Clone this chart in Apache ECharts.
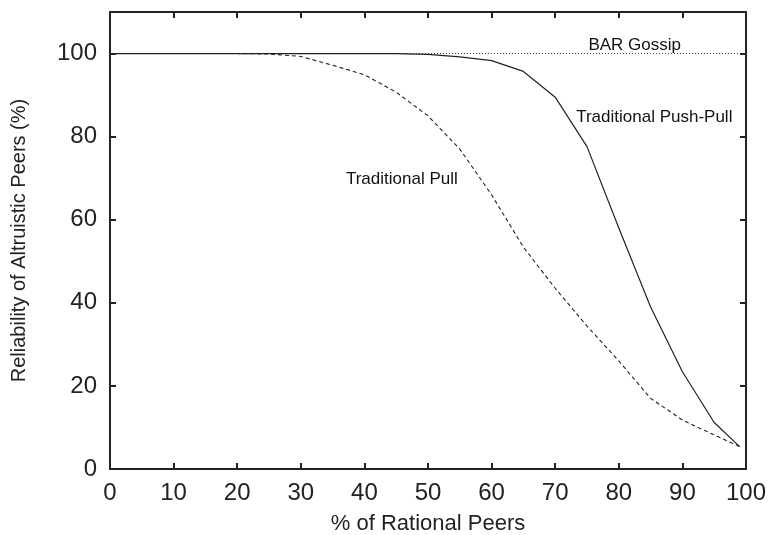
<!DOCTYPE html>
<html>
<head>
<meta charset="utf-8">
<script src="https://cdn.jsdelivr.net/npm/echarts@6/dist/echarts.min.js"></script>
<style>
  html, body { margin: 0; padding: 0; background: #fff; }
  #chart { width: 776px; height: 535px; }
</style>
</head>
<body>
<div id="chart"></div>
<script>
// Fraction of rational peers (%)
const rationalPct = [0, 5, 10, 15, 20, 25, 30, 35, 40, 45, 50, 55, 60, 65, 70, 75, 80, 85, 90, 95, 99];

// Reliability observed by altruistic peers (%)
const barGossip    = [100, 100, 100, 100, 100, 100, 100, 100, 100, 100, 100, 100, 100, 100, 100, 100, 100, 100, 100, 100, 100];
const pushPull     = [100, 100, 100, 100, 100, 100, 100, 100, 100, 100, 99.8, 99.2, 98.3, 95.7, 89.5, 77.6, 58, 39, 23.4, 11.2, 5.4];
const pull         = [100, 100, 100, 100, 100, 99.9, 99.3, 97.2, 94.9, 90.7, 85, 77, 66, 53.4, 43.5, 34.4, 26, 17, 11.8, 8.2, 5.4];

// Curve annotations: [x, y, text, alignment]
const curveLabels = [
  [82.5, 102, 'BAR Gossip', 'center'],
  [73.3, 84.6, 'Traditional Push-Pull', 'left'],
  [37.1, 69.8, 'Traditional Pull', 'left']
];

const xTicks = [0, 10, 20, 30, 40, 50, 60, 70, 80, 90, 100];
const yTicks = [0, 20, 40, 60, 80, 100];

const ink = '#222';
const font = '"Liberation Sans", Arial, Helvetica, sans-serif';

function pairs(ys) {
  return rationalPct.map((x, i) => [x, ys[i]]);
}

const frameLine = { show: true, onZero: false, lineStyle: { color: ink, width: 2 } };
const innerTick = { show: true, inside: true, length: 6, lineStyle: { color: ink, width: 2 } };

const chart = echarts.init(document.getElementById('chart'), null, { renderer: 'canvas' });

chart.setOption({
  backgroundColor: '#fff',
  animation: false,
  grid: { left: 110, right: 30, top: 12, bottom: 66, containLabel: false, outerBoundsMode: 'none' },
  xAxis: [
    {
      type: 'value', position: 'bottom', min: 0, max: 100, interval: 10,
      axisLine: frameLine, axisTick: innerTick, splitLine: { show: false },
      axisLabel: {
        color: ink, fontSize: 24, fontFamily: font, margin: 12,
        formatter: v => xTicks.includes(v) ? String(v) : ''
      },
      name: '% of Rational Peers', nameLocation: 'middle', nameGap: 44,
      nameTextStyle: { color: ink, fontSize: 22, fontFamily: font }
    },
    {
      type: 'value', position: 'top', min: 0, max: 100, interval: 10,
      axisLine: frameLine, axisTick: innerTick, splitLine: { show: false },
      axisLabel: { show: false }
    }
  ],
  yAxis: [
    {
      type: 'value', position: 'left', min: 0, max: 110, interval: 20,
      axisLine: frameLine, axisTick: innerTick, splitLine: { show: false },
      axisLabel: {
        color: ink, fontSize: 24, fontFamily: font, margin: 13,
        formatter: v => yTicks.includes(v) ? String(v) : ''
      },
      name: 'Reliability of Altruistic Peers (%)', nameLocation: 'middle', nameGap: 81,
      nameTextStyle: { color: ink, fontSize: 20, fontFamily: font }
    },
    {
      type: 'value', position: 'right', min: 0, max: 110, interval: 20,
      axisLine: frameLine, axisTick: innerTick, splitLine: { show: false },
      axisLabel: { show: false }
    }
  ],
  series: [
    {
      name: 'BAR Gossip', type: 'line', data: pairs(barGossip),
      showSymbol: false, symbol: 'none',
      lineStyle: { color: '#444', width: 1, type: [1, 2] }
    },
    {
      name: 'Traditional Push-Pull', type: 'line', data: pairs(pushPull),
      showSymbol: false, symbol: 'none',
      lineStyle: { color: ink, width: 1.2 }
    },
    {
      name: 'Traditional Pull', type: 'line', data: pairs(pull),
      showSymbol: false, symbol: 'none',
      lineStyle: { color: ink, width: 1.1, type: [4, 3] }
    },
    {
      // text annotations next to each curve
      name: 'labels', type: 'scatter', symbol: 'circle', symbolSize: 0,
      itemStyle: { color: '#fff', opacity: 1 },
      silent: true,
      z: 5,
      data: curveLabels.map(([x, y, text, align]) => ({
        value: [x, y],
        label: {
          show: true, position: 'inside', formatter: text, opacity: 1,
          color: '#111', fontSize: 17, fontFamily: font,
          textBorderWidth: 0, align: align, verticalAlign: 'middle'
        }
      }))
    }
  ]
});
</script>
</body>
</html>
